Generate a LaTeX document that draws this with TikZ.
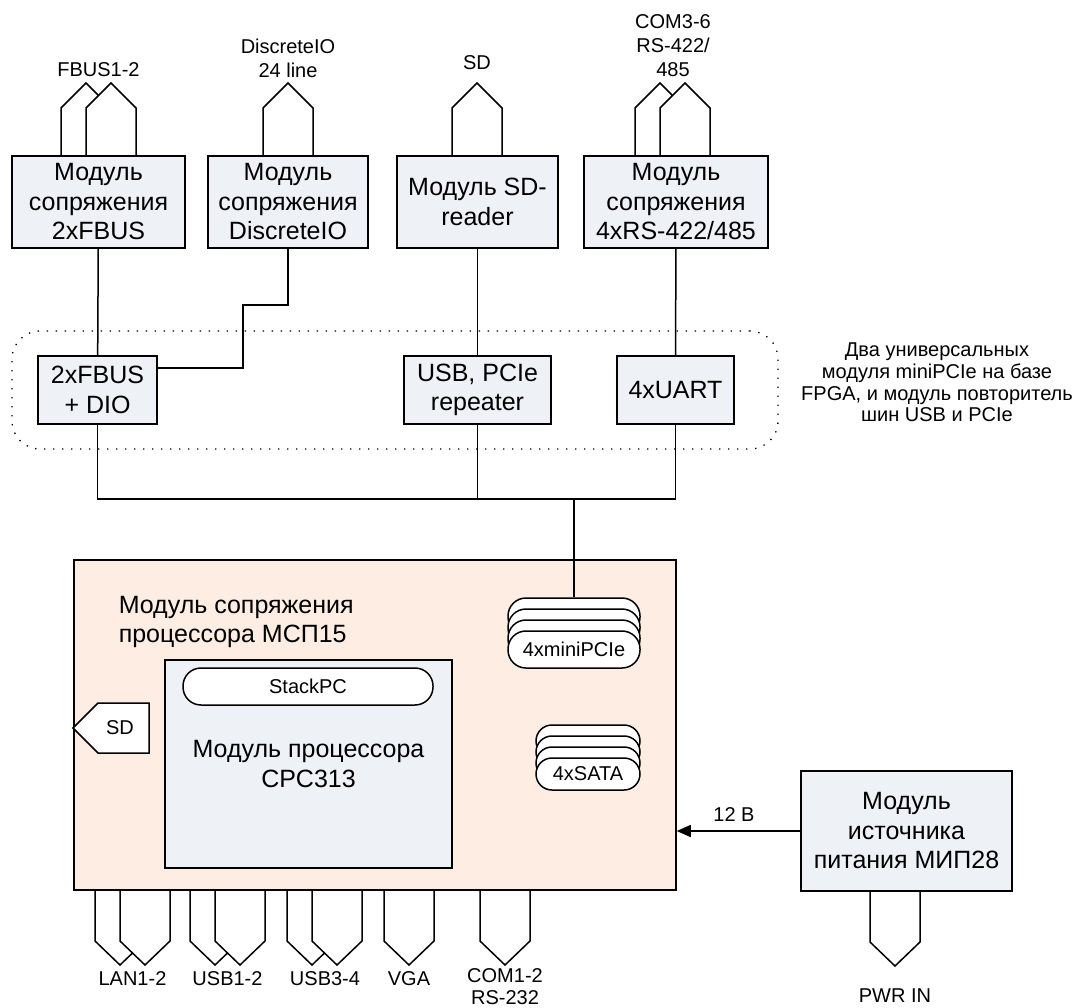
\documentclass[tikz,border=0pt]{standalone}
\usepackage{fontspec}
\setmainfont{Liberation Sans}
\usetikzlibrary{arrows.meta,positioning}
\definecolor{boxfill}{HTML}{EEF1F6}
\definecolor{peach}{HTML}{FDEDE3}
\newcommand{\bigtxt}{\fontsize{25}{29.5}\selectfont}
\newcommand{\smalltxt}{\fontsize{20}{24}\selectfont}
% connector pointing up / down, #1 = left x, #2 = base y
\newcommand{\plugup}[2]{\draw[fill=white] (#1,#2) -- ++(0,-48) -- ++(25,-25) -- ++(25,25) -- ++(0,48);}
\newcommand{\plugdown}[2]{\draw[fill=white] (#1,#2) -- ++(0,51) -- ++(25,24) -- ++(25,-24) -- ++(0,-51);}

\begin{document}
\begin{tikzpicture}[x=1pt, y=-1pt, line width=1.5pt,
    box/.style={draw, fill=boxfill, align=center, font=\bigtxt, inner sep=2pt},
    pill/.style={draw, fill=white, font=\smalltxt, inner sep=1pt},
    lbl/.style={align=center, font=\smalltxt, inner sep=1pt}]
    \useasboundingbox (0,0) rectangle (1078,1008);

    % top connectors
    \plugup{61}{156}
    \plugup{86}{156}
    \plugup{263}{156}
    \plugup{452}{156}
    \plugup{635}{156}
    \plugup{660}{156}
    \node (fbuslbl) [lbl] at (98.5,70) {FBUS1-2};
    \node (dsclbl) [lbl] at (288,58) {DiscreteIO\\24 line};
    \node (sdlbl) [lbl] at (477,63) {SD};
    \node (comlbl) [lbl] at (673,46) {COM3-6\\RS-422/\\485};

    % interface modules
    \node (fbus) [box, minimum width=173pt, minimum height=92pt] at (98.5,202) {Модуль\\сопряжения\\2xFBUS};
    \node (dsc) [box, minimum width=160pt, minimum height=92pt] at (288,202) {Модуль\\сопряжения\\DiscreteIO};
    \node (sdr) [box, minimum width=161pt, minimum height=92pt] at (477.5,202) {Модуль SD-\\reader};
    \node (rs) [box, minimum width=184pt, minimum height=92pt] at (676,202) {Модуль\\сопряжения\\4xRS-422/485};

    % miniPCIe modules
    \node (fpga) [draw, line width=1.3pt, dash pattern=on 1.3pt off 7.7pt, rounded corners=28pt, minimum width=766pt, minimum height=118pt] at (395,390) {};
    \node (dio) [box, minimum width=119pt, minimum height=68pt] at (97.5,390) {2xFBUS\\+ DIO};
    \node (rep) [box, minimum width=147pt, minimum height=68pt] at (477.5,390) {USB, PCIe\\repeater};
    \node (uart) [box, minimum width=117pt, minimum height=68pt] at (675.5,390) {4xUART};
    \node (note) [lbl, font=\fontsize{20}{21.7}\selectfont] at (937,382.5) {Два универсальных\\модуля miniPCIe на базе\\FPGA, и модуль повторитель\\шин USB и PCIe};

    \draw (fbus) -- (dio);
    \draw (dsc.south) |- (243,305) |- ([yshift=22pt]dio.east);
    \draw (sdr) -- (rep);
    \draw (rs) -- (uart);
    \draw (dio.south) -- ++(0,74) -| (uart.south);
    \draw (rep.south) -- ++(0,74);
    \coordinate (bus) at (574,498);

    % bottom connectors
    \plugdown{95}{890}
    \plugdown{120}{890}
    \plugdown{190}{890}
    \plugdown{215}{890}
    \plugdown{287}{890}
    \plugdown{312}{890}
    \plugdown{384}{890}
    \plugdown{480}{890}
    \node (lanlbl) [lbl] at (132.5,979) {LAN1-2};
    \node (usb1lbl) [lbl] at (227.5,979) {USB1-2};
    \node (usb3lbl) [lbl] at (325,979) {USB3-4};
    \node (vgalbl) [lbl] at (409,979) {VGA};
    \node (comlbl2) [lbl, font=\fontsize{20}{22}\selectfont] at (505,987) {COM1-2\\RS-232};

    % processor carrier board
    \node (msp) [draw, fill=peach, minimum width=602pt, minimum height=330pt] at (375,725) {};
    \node (msptitle) [anchor=west, align=left, font=\bigtxt, inner sep=2pt] at (116,622) {Модуль сопряжения\\процессора МСП15};
    \node (cpc) [box, minimum width=287pt, minimum height=208pt] at (308.5,764) {Модуль процессора\\CPC313};
    \node (stack) [pill, rounded corners=18pt, minimum width=250pt, minimum height=37pt] at (308,686.5) {StackPC};
    \draw[fill=white] (73,728) -- (98,703) -- (149,703) -- (149,753) -- (98,753) -- cycle;
    \node (sdslot) [lbl] at (120,728) {SD};

    \foreach \dy [count=\k] in {0,11,22}
        \node (pcie\k) [pill, rounded corners=18pt, minimum width=132pt, minimum height=37pt] at (574,616.5+\dy) {};
    \node (pcie) [pill, rounded corners=18pt, minimum width=132pt, minimum height=37pt] at (574,649.5) {4xminiPCIe};
    \foreach \dy [count=\k] in {0,11,22}
        \node (sata\k) [pill, rounded corners=16pt, minimum width=104pt, minimum height=32pt] at (588,741+\dy) {};
    \node (sata) [pill, rounded corners=16pt, minimum width=104pt, minimum height=32pt] at (588,774) {4xSATA};
    \draw (bus) -- (pcie1.north);

    % power supply
    \plugdown{870}{891}
    \node (pwr) [box, minimum width=211pt, minimum height=120pt] at (906.5,831) {Модуль\\источника\\питания МИП28};
    \node (pwrlbl) [lbl] at (895,996) {PWR IN};
    \draw[-{Triangle[length=14pt,width=12pt]}] (pwr.west) -- (pwr.west -| msp.east);
    \node (volt) [lbl] at (734,815) {12 В};
\end{tikzpicture}
\end{document}
